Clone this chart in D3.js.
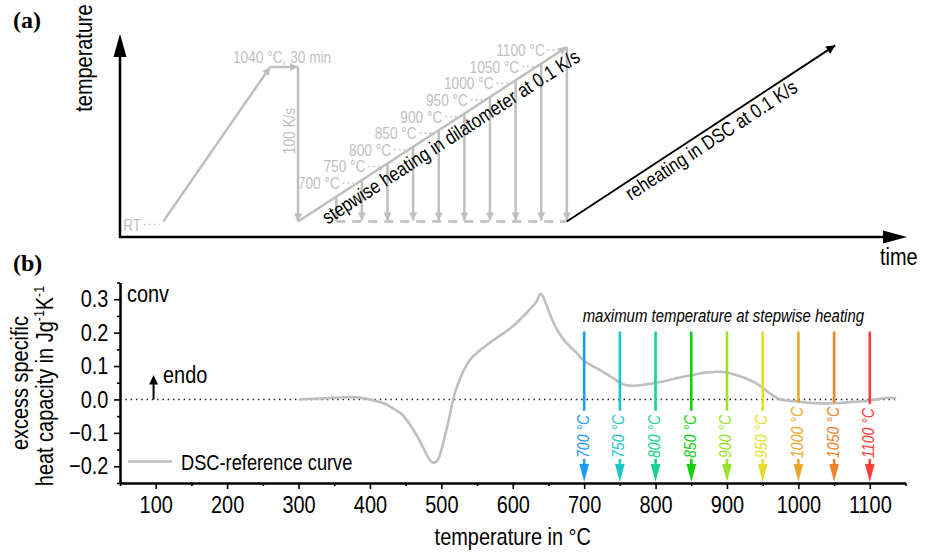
<!DOCTYPE html>
<html><head><meta charset="utf-8">
<script src="https://cdn.jsdelivr.net/npm/d3@7"></script>
<style>html,body{margin:0;padding:0;background:#fff}svg{display:block}</style>
</head><body>
<svg id="fig" width="933" height="552"></svg>
<script>
// ---------- panel (a): heat-treatment schedule (schematic) ----------
const scheduleTime = [5.5, 19.1, 22.65, 22.65];   // RT -> 1040 °C -> hold -> quench
const scheduleTemp = [25, 1040, 1040, 25];
const rampTime = [22.65, 56.85];                  // stepwise heating in dilatometer
const rampTemp = [25, 1100];
const reheatTime = [56.85, 91.0];                 // reheating in DSC
const reheatTemp = [25, 1105];
const stepTemps = [650, 700, 750, 800, 850, 900, 950, 1000, 1050, 1100];
const stepLabelTemps = [700, 750, 800, 850, 900, 950, 1000, 1050, 1100];

// ---------- panel (b): DSC reference curve ----------
const dscTemp = [300,320,340,360,375,390,405,420,435,445,455,462,470,477,483,489,493,497,502,506,
  510,514,518,523,528,533,540,550,560,570,580,593,605,615,625,633,639,643,648,653,658,665,672,681,
  690,700,712,723,733,742,750,758,767,775,785,795,803,815,826,838,849,860,873,885,895,905,915,925,
  935,945,953,961,968,975,985,999,1010,1022,1035,1050,1062,1073,1085,1101,1112,1125,1132,1137];
const dscCp = [0.000,0.002,0.004,0.006,0.007,0.004,-0.003,-0.012,-0.030,-0.045,-0.072,-0.095,-0.125,
  -0.155,-0.178,-0.189,-0.186,-0.172,-0.135,-0.100,-0.065,-0.025,0.012,0.045,0.072,0.094,0.118,0.140,
  0.157,0.173,0.188,0.207,0.228,0.250,0.272,0.292,0.316,0.305,0.278,0.250,0.226,0.198,0.177,0.157,
  0.138,0.115,0.100,0.087,0.074,0.062,0.050,0.043,0.041,0.042,0.045,0.048,0.051,0.056,0.062,0.068,
  0.072,0.077,0.081,0.083,0.082,0.078,0.072,0.064,0.055,0.043,0.030,0.017,0.007,0.000,-0.003,-0.006,
  -0.009,-0.011,-0.012,-0.011,-0.010,-0.008,-0.006,-0.003,0.001,0.005,0.004,0.003];
const maxTemps = [700, 750, 800, 850, 900, 950, 1000, 1050, 1100];
const maxColors = ["#1e9bff","#1cc6c8","#18d48e","#10d010","#9be22d","#e4dc2a","#e8a82b","#f08229","#ff3c3c"];
const xTickValues = [100, 200, 300, 400, 500, 600, 700, 800, 900, 1000, 1100];
const xMinorValues = [50, 150, 250, 350, 450, 550, 650, 750, 850, 950, 1050, 1150];
const yTickValues = [-0.2, -0.1, 0.0, 0.1, 0.2, 0.3];
const yMinorValues = [-0.25, -0.15, -0.05, 0.05, 0.15, 0.25, 0.35];

const SANS = "'Liberation Sans', Arial, sans-serif";
const SERIF = "'Liberation Serif', 'Times New Roman', serif";
const GRAY = "#bfbfbf";

const svg = d3.select("#fig");
svg.append("rect").attr("width", 933).attr("height", 552).attr("fill", "#fff");

function addText(parent, x, y, str, opt) {
  const o = Object.assign({size: 24, anchor: "start", rot: 0, italic: false, fill: "#000",
    weight: "normal", family: SANS, sx: 0.83}, opt || {});
  return parent.append("text")
    .attr("transform", `translate(${x},${y}) rotate(${o.rot}) scale(${o.sx},1)`)
    .attr("text-anchor", o.anchor)
    .attr("font-family", o.family).attr("font-size", o.size)
    .attr("font-style", o.italic ? "italic" : "normal")
    .attr("font-weight", o.weight)
    .attr("fill", o.fill)
    .text(str);
}

// arrow markers
const defs = svg.append("defs");
function marker(id, color, w, h) {
  defs.append("marker").attr("id", id)
    .attr("viewBox", "0 0 10 10").attr("refX", 10).attr("refY", 5)
    .attr("markerUnits", "userSpaceOnUse")
    .attr("markerWidth", w).attr("markerHeight", h)
    .attr("orient", "auto")
    .append("path").attr("d", "M0,0 L10,5 L0,10 Z").attr("fill", color);
}
marker("arrGray", GRAY, 10, 8);
marker("arrBlack", "#000", 13, 9);

// ================= panel (a) =================
const ga = svg.append("g");
const xA = d3.scaleLinear().domain([0, 100]).range([120, 906]);
const yA = d3.scaleLinear().domain([25, 650, 1100]).range([221.5, 196.7, 47]);

// axes with arrow heads
const axTop = 34, axRight = 907, ax0 = xA(0), ay0 = 237;
ga.append("line").attr("x1", ax0).attr("y1", ay0 + 1).attr("x2", ax0).attr("y2", axTop + 18)
  .attr("stroke", "#000").attr("stroke-width", 2.5);
ga.append("path").attr("d", `M${ax0},${axTop} L${ax0 - 6.5},${axTop + 23} L${ax0 + 6.5},${axTop + 23} Z`).attr("fill", "#000");
ga.append("line").attr("x1", ax0 - 1).attr("y1", ay0).attr("x2", axRight - 18).attr("y2", ay0)
  .attr("stroke", "#000").attr("stroke-width", 2.5);
ga.append("path").attr("d", `M${axRight},${ay0} L${axRight - 24},${ay0 - 6.5} L${axRight - 24},${ay0 + 6.5} Z`).attr("fill", "#000");

addText(ga, 92, 58, "temperature", {rot: -90, anchor: "middle"});
addText(ga, 880, 265, "time");
addText(ga, 13, 28, "(a)", {family: SERIF, weight: "bold", size: 24, sx: 1});

// austenitising + quench segments
for (let i = 0; i < scheduleTime.length - 1; i++) {
  ga.append("line")
    .attr("x1", xA(scheduleTime[i])).attr("y1", yA(scheduleTemp[i]))
    .attr("x2", xA(scheduleTime[i + 1])).attr("y2", yA(scheduleTemp[i + 1]))
    .attr("stroke", GRAY).attr("stroke-width", 2.5)
    .attr("marker-end", "url(#arrGray)");
}

// stepwise heating ramp
const r0 = [xA(rampTime[0]), yA(rampTemp[0])], r1 = [xA(rampTime[1]), yA(rampTemp[1])];
ga.append("line").attr("x1", r0[0]).attr("y1", r0[1]).attr("x2", r1[0]).attr("y2", r1[1])
  .attr("stroke", GRAY).attr("stroke-width", 2.5).attr("marker-end", "url(#arrGray)");
function rampX(T) {
  const y = yA(T);
  return r0[0] + (r0[1] - y) / (r0[1] - r1[1]) * (r1[0] - r0[0]);
}
const baseY = yA(25);
// dashed floor between the steps
ga.append("line").attr("x1", rampX(stepTemps[0])).attr("y1", baseY)
  .attr("x2", rampX(stepTemps[stepTemps.length - 1])).attr("y2", baseY)
  .attr("stroke", GRAY).attr("stroke-width", 2.5).attr("stroke-dasharray", "9,7");
stepTemps.forEach(T => {
  ga.append("line").attr("x1", rampX(T)).attr("y1", yA(T)).attr("x2", rampX(T)).attr("y2", baseY - 1)
    .attr("stroke", GRAY).attr("stroke-width", 2.5).attr("marker-end", "url(#arrGray)");
});

// gray level labels with dotted leaders
function levelLabel(x, y, str) {
  addText(ga, x - 22, y + 9, str, {size: 16.5, anchor: "end", fill: GRAY});
  ga.append("line").attr("x1", x - 19).attr("y1", y + 3).attr("x2", x - 4).attr("y2", y + 3)
    .attr("stroke", GRAY).attr("stroke-width", 1.6).attr("stroke-dasharray", "1.6,3.2");
}
stepLabelTemps.forEach(T => levelLabel(rampX(T), yA(T), `${T} °C`));
levelLabel(xA(scheduleTime[0]), yA(scheduleTemp[0]), "RT");
addText(ga, (xA(scheduleTime[1]) + xA(scheduleTime[2])) / 2 - 2, yA(1040) - 4, "1040 °C, 30 min",
  {size: 16.5, anchor: "middle", fill: GRAY});
addText(ga, xA(scheduleTime[2]) - 3.5, 131, "100 K/s", {size: 16.5, anchor: "middle", rot: -90, fill: GRAY});

// reheating in DSC
const h0 = [xA(reheatTime[0]), yA(reheatTemp[0])], h1 = [xA(reheatTime[1]), yA(reheatTemp[1])];
ga.append("line").attr("x1", h0[0]).attr("y1", h0[1]).attr("x2", h1[0]).attr("y2", h1[1])
  .attr("stroke", "#000").attr("stroke-width", 2).attr("marker-end", "url(#arrBlack)");

function alongText(p0, p1, f, off, str) {
  const dx = p1[0] - p0[0], dy = p1[1] - p0[1], len = Math.hypot(dx, dy);
  const ux = dx / len, uy = dy / len;
  const nx = -uy, ny = ux;
  const ang = Math.atan2(dy, dx) * 180 / Math.PI;
  const px = p0[0] + dx * f + nx * off, py = p0[1] + dy * f + ny * off;
  addText(ga, px, py, str, {size: 20, anchor: "middle", rot: ang});
}
alongText(r0, r1, 0.544, 19, "stepwise heating in dilatometer at 0.1 K/s");
alongText(h0, h1, 0.515, 18, "reheating in DSC at 0.1 K/s");

// ================= panel (b) =================
const gb = svg.append("g");
const xB = d3.scaleLinear().domain([50, 1150]).range([120, 905.5]);
const yB = d3.scaleLinear().domain([-0.25, 0.35]).range([483, 282.5]);

addText(gb, 13, 271, "(b)", {family: SERIF, weight: "bold", size: 24, sx: 1});

// zero line
gb.append("line").attr("x1", xB(50)).attr("x2", xB(1140)).attr("y1", yB(0)).attr("y2", yB(0))
  .attr("stroke", "#222").attr("stroke-width", 1.5).attr("stroke-dasharray", "1.5,3.8");

// axes
function styleAxis(g) {
  g.select(".domain").attr("stroke", "#000").attr("stroke-width", 2);
  g.selectAll(".tick line").attr("stroke", "#000").attr("stroke-width", 1.6);
}
const yAxisG = gb.append("g").attr("transform", `translate(${xB(50)},0)`)
  .call(d3.axisLeft(yB).tickValues(yTickValues).tickSize(6).tickSizeOuter(0).tickPadding(8)
    .tickFormat(d3.format(".1f")));
const yMinorG = gb.append("g").attr("transform", `translate(${xB(50)},0)`)
  .call(d3.axisLeft(yB).tickValues(yMinorValues).tickSize(3).tickSizeOuter(0).tickFormat(""));
const xAxisG = gb.append("g").attr("transform", `translate(0,${yB(-0.25)})`)
  .call(d3.axisBottom(xB).tickValues(xTickValues).tickSize(6).tickSizeOuter(0).tickPadding(7)
    .tickFormat(d3.format("d")));
const xMinorG = gb.append("g").attr("transform", `translate(0,${yB(-0.25)})`)
  .call(d3.axisBottom(xB).tickValues(xMinorValues).tickSize(3).tickSizeOuter(0).tickFormat(""));
[yAxisG, yMinorG, xAxisG, xMinorG].forEach(styleAxis);
// tick labels in a narrow sans face
[yAxisG, xAxisG].forEach(g => g.selectAll(".tick text")
  .attr("font-family", SANS).attr("font-size", 24).attr("fill", "#000")
  .attr("transform", "scale(0.83,1)"));

// axis titles
addText(gb, 28, 383, "excess specific", {rot: -90, anchor: "middle"});
const yt = gb.append("text")
  .attr("transform", "translate(53,386) rotate(-90) scale(0.83,1)")
  .attr("text-anchor", "middle").attr("font-family", SANS).attr("font-size", 24);
yt.append("tspan").text("heat capacity in Jg");
yt.append("tspan").attr("font-size", 15).attr("dy", -9).text("-1");
yt.append("tspan").attr("dy", 9).text("K");
yt.append("tspan").attr("font-size", 15).attr("dy", -9).text("-1");
addText(gb, xB(600), 545, "temperature in °C", {anchor: "middle"});

// DSC curve
const dsc = dscTemp.map((t, i) => [t, dscCp[i]]);
gb.append("path").datum(dsc)
  .attr("d", d3.line().x(d => xB(d[0])).y(d => yB(d[1])).curve(d3.curveMonotoneX))
  .attr("fill", "none").attr("stroke", GRAY).attr("stroke-width", 2.6)
  .attr("stroke-linejoin", "round");

// annotations
addText(gb, 127, 302, "conv");
gb.append("line").attr("x1", xB(97)).attr("x2", xB(97)).attr("y1", yB(0)).attr("y2", yB(0.058))
  .attr("stroke", "#000").attr("stroke-width", 2);
gb.append("path").attr("d", `M${xB(97)},${yB(0.073)} L${xB(97) - 4.5},${yB(0.045)} L${xB(97) + 4.5},${yB(0.045)} Z`)
  .attr("fill", "#000");
addText(gb, 163, 383, "endo");

// legend
gb.append("line").attr("x1", 128).attr("x2", 172).attr("y1", 461.5).attr("y2", 461.5)
  .attr("stroke", GRAY).attr("stroke-width", 2.6);
addText(gb, 181, 470, "DSC-reference curve", {size: 22});

// maximum temperature markers
addText(gb, xB(700) - 1.5, 322, "maximum temperature at stepwise heating", {size: 18, italic: true});
const arrowTop = 331.5, labelStart = 458, tipY = yB(-0.25) - 1, headLen = 18;
maxTemps.forEach((T, i) => {
  const x = xB(T), c = maxColors[i];
  const t = addText(gb, x + 4.5, labelStart, `${T} °C`, {size: 17, italic: true, rot: -90, fill: c});
  const len = t.node().getComputedTextLength() * 0.83;
  gb.append("line").attr("x1", x).attr("x2", x).attr("y1", arrowTop).attr("y2", labelStart - len - 4)
    .attr("stroke", c).attr("stroke-width", 2.6);
  gb.append("line").attr("x1", x).attr("x2", x).attr("y1", labelStart + 1).attr("y2", tipY - headLen + 2)
    .attr("stroke", c).attr("stroke-width", 2.6);
  gb.append("path").attr("d", `M${x},${tipY} L${x - 4.8},${tipY - headLen} L${x + 4.8},${tipY - headLen} Z`)
    .attr("fill", c);
});
</script>
</body></html>
